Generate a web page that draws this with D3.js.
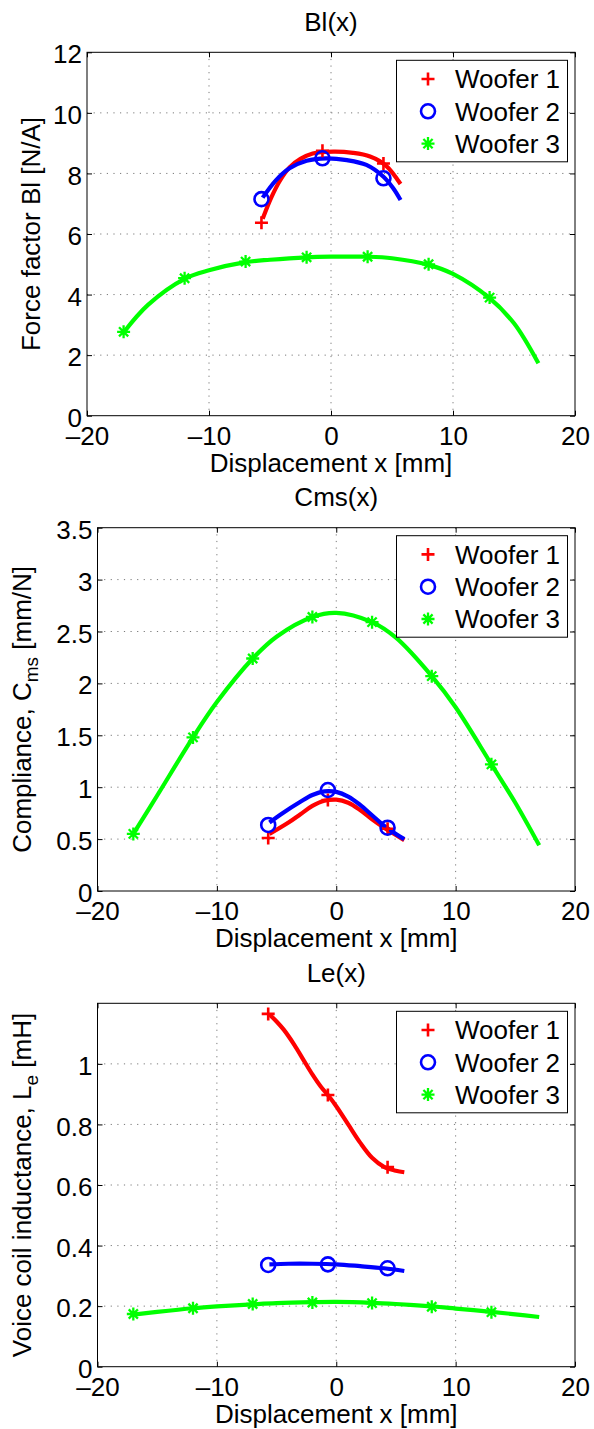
<!DOCTYPE html>
<html><head><meta charset="utf-8">
<script src="https://cdn.jsdelivr.net/npm/d3@7"></script>
<style>body{margin:0;background:#fff}</style>
</head><body><svg id="c" width="594" height="1429" xmlns="http://www.w3.org/2000/svg"></svg>
<script>
// ---------- data ----------
const seriesNames = ["Woofer 1", "Woofer 2", "Woofer 3"];
const seriesColors = ["#ff0000", "#0000ff", "#00ff00"];
const seriesMarkers = ["plus", "circle", "star"];

const xTicks = [-20, -10, 0, 10, 20];
const blTicks = [0, 2, 4, 6, 8, 10, 12];
const cmsTicks = [0, 0.5, 1, 1.5, 2, 2.5, 3, 3.5];
const leTicks = [0, 0.2, 0.4, 0.6, 0.8, 1];

// measured positions (markers)
const w12MarkX = [-5.7, -0.7, 4.3];
const w3MarkX = [-17, -12, -7, -2, 3, 8, 13];

const blW1MarkY = [6.37, 8.75, 8.33];
const blW2MarkY = [7.15, 8.5, 7.84];
const blW3MarkY = [2.77, 4.54, 5.09, 5.23, 5.25, 5.0, 3.9];

const cmsW1MarkY = [0.51, 0.877, 0.6];
const cmsW2MarkY = [0.636, 0.973, 0.61];
const cmsW3MarkY = [0.55, 1.48, 2.24, 2.64, 2.59, 2.07, 1.22];

const leW1MarkY = [1.165, 0.897, 0.659];
const leW2MarkY = [0.336, 0.338, 0.325];
const leW3MarkY = [0.174, 0.193, 0.207, 0.212, 0.21, 0.198, 0.18];

// fitted curves
const blW1CurveX = [-5.6, -4.9, -4.2, -3.4, -2.5, -1.5, 0.2, 1.8, 3.2, 4.5, 5.7];
const blW1CurveY = [6.5, 7.2, 7.75, 8.2, 8.48, 8.66, 8.72, 8.68, 8.56, 8.26, 7.65];
const blW2CurveX = [-5.6, -4.5, -3.4, -2, -0.4, 1.3, 2.9, 4.3, 5.1, 5.7];
const blW2CurveY = [7.2, 7.78, 8.17, 8.42, 8.5, 8.44, 8.28, 7.89, 7.51, 7.12];
const blW3CurveX = [-17, -15, -12, -10, -7, -5, -2, 0, 3, 5, 8, 10, 13, 15, 17];
const blW3CurveY = [2.75, 3.66, 4.52, 4.8, 5.07, 5.15, 5.23, 5.25, 5.25, 5.2, 4.98, 4.68, 3.88, 3.05, 1.73];

const cmsW1CurveX = [-5.6, -4, -3, -2, -1, 0, 1, 2, 3, 4, 5, 5.7];
const cmsW1CurveY = [0.55, 0.66, 0.74, 0.82, 0.87, 0.88, 0.85, 0.78, 0.69, 0.61, 0.54, 0.49];
const cmsW2CurveX = [-5.6, -4.5, -3, -2, -1, 0, 1, 2, 3, 4, 5, 5.7];
const cmsW2CurveY = [0.66, 0.75, 0.86, 0.925, 0.96, 0.955, 0.91, 0.83, 0.73, 0.63, 0.55, 0.5];
const cmsW3CurveX = [-17, -15, -12, -10, -7, -5, -2, 0, 3, 5, 8, 10, 13, 15, 17];
const cmsW3CurveY = [0.55, 0.92, 1.48, 1.82, 2.24, 2.45, 2.64, 2.68, 2.59, 2.44, 2.07, 1.77, 1.22, 0.85, 0.44];

const leW1CurveX = [-5.6, -5, -4.4, -3.5, -2.7, -2, -1.3, -0.7, 0, 1, 2, 3, 4, 5, 5.7];
const leW1CurveY = [1.163, 1.14, 1.113, 1.062, 1.01, 0.965, 0.925, 0.897, 0.86, 0.8, 0.74, 0.69, 0.66, 0.647, 0.642];
const leW2CurveX = [-5.6, -4, -2, 0, 2, 4, 5.7];
const leW2CurveY = [0.338, 0.34, 0.34, 0.338, 0.332, 0.325, 0.316];
const leW3CurveX = [-17, -15, -12, -10, -7, -5, -2, 0, 3, 5, 8, 10, 13, 15, 17];
const leW3CurveY = [0.172, 0.181, 0.193, 0.199, 0.206, 0.21, 0.213, 0.214, 0.211, 0.207, 0.199, 0.192, 0.181, 0.173, 0.164];

// ---------- build panels ----------
const zip = (xs, ys) => xs.map((x, i) => ({x, y: ys[i]}));
const panels = [
  {title: "Bl(x)", yTicks: blTicks, yMax: 12,
   ylabel: [{t: "Force factor Bl [N/A]"}],
   box: {l: 87, r: 575, t: 52.3, b: 415.7}, ylabX: 40,
   curves: [zip(blW1CurveX, blW1CurveY), zip(blW2CurveX, blW2CurveY), zip(blW3CurveX, blW3CurveY)],
   marks: [zip(w12MarkX, blW1MarkY), zip(w12MarkX, blW2MarkY), zip(w3MarkX, blW3MarkY)]},
  {title: "Cms(x)", yTicks: cmsTicks, yMax: 3.5,
   ylabel: [{t: "Compliance, C"}, {t: "ms", sub: true}, {t: " [mm/N]"}],
   box: {l: 97.5, r: 575, t: 527.7, b: 891}, ylabX: 31,
   curves: [zip(cmsW1CurveX, cmsW1CurveY), zip(cmsW2CurveX, cmsW2CurveY), zip(cmsW3CurveX, cmsW3CurveY)],
   marks: [zip(w12MarkX, cmsW1MarkY), zip(w12MarkX, cmsW2MarkY), zip(w3MarkX, cmsW3MarkY)]},
  {title: "Le(x)", yTicks: leTicks, yMax: 1.2,
   ylabel: [{t: "Voice coil inductance, L"}, {t: "e", sub: true}, {t: " [mH]"}],
   box: {l: 97.5, r: 575, t: 1003.3, b: 1366.7}, ylabX: 31,
   curves: [zip(leW1CurveX, leW1CurveY), zip(leW2CurveX, leW2CurveY), zip(leW3CurveX, leW3CurveY)],
   marks: [zip(w12MarkX, leW1MarkY), zip(w12MarkX, leW2MarkY), zip(w3MarkX, leW3MarkY)]}
];

const FONT = "'Liberation Sans', Arial, Helvetica, sans-serif";
const FS = 26;
const svg = d3.select("#c");
svg.append("rect").attr("width", 594).attr("height", 1429).attr("fill", "#fff");

const fmt = d => d < 0 ? "\u2013" + Math.abs(d) : String(d);

function drawMarker(g, type, cx, cy, color) {
  const m = g.append("g").attr("transform", `translate(${cx},${cy})`)
    .attr("stroke", color).attr("fill", "none").attr("stroke-width", 2.6);
  if (type === "plus") {
    m.append("path").attr("d", "M-6.5,0H6.5M0,-6.5V6.5");
  } else if (type === "circle") {
    m.append("circle").attr("r", 7);
  } else {
    m.attr("stroke-width", 2.3);
    m.append("path").attr("d", "M-6.5,0H6.5M0,-6.5V6.5M-4.6,-4.6L4.6,4.6M-4.6,4.6L4.6,-4.6");
  }
}

panels.forEach(p => {
  const B = p.box;
  const x = d3.scaleLinear().domain([-20, 20]).range([B.l, B.r]);
  const y = d3.scaleLinear().domain([0, p.yMax]).range([B.b, B.t]);
  const g = svg.append("g");

  // grid
  const gridX = xTicks.filter(t => t > -20 && t < 20);
  const gridY = p.yTicks.filter(t => t > 0 && t < p.yMax);
  g.selectAll(null).data(gridX).enter().append("line")
    .attr("x1", d => x(d)).attr("x2", d => x(d)).attr("y1", B.t).attr("y2", B.b)
    .attr("stroke", "#7a7a7a").attr("stroke-width", 1).attr("stroke-dasharray", "1.2,5.4");
  g.selectAll(null).data(gridY).enter().append("line")
    .attr("y1", d => y(d)).attr("y2", d => y(d)).attr("x1", B.l).attr("x2", B.r)
    .attr("stroke", "#7a7a7a").attr("stroke-width", 1).attr("stroke-dasharray", "1.2,5.4");

  // axes via d3 (inward ticks)
  const ax = g.append("g").attr("transform", `translate(0,${B.b})`)
    .call(d3.axisBottom(x).tickValues(xTicks).tickSizeInner(-5).tickSizeOuter(0).tickFormat(fmt));
  ax.selectAll("text").attr("dy", null).attr("y", 29.3);
  const axT = g.append("g").attr("transform", `translate(0,${B.t})`)
    .call(d3.axisTop(x).tickValues(xTicks).tickSizeInner(-5).tickSizeOuter(0).tickFormat(""));
  const ay = g.append("g").attr("transform", `translate(${B.l},0)`)
    .call(d3.axisLeft(y).tickValues(p.yTicks).tickSizeInner(-5).tickSizeOuter(0).tickFormat(fmt));
  ay.selectAll("text").attr("dy", null).attr("x", -5).attr("dy", "0.36em").attr("transform", "translate(0,1.2)");
  const ayR = g.append("g").attr("transform", `translate(${B.r},0)`)
    .call(d3.axisRight(y).tickValues(p.yTicks).tickSizeInner(-5).tickSizeOuter(0).tickFormat(""));
  [ax, axT, ay, ayR].forEach(a => {
    a.select(".domain").remove();
    a.selectAll("line").attr("stroke", "#000");
    a.selectAll("text").attr("font-family", FONT).attr("font-size", FS).attr("fill", "#000");
  });
  g.append("rect").attr("x", B.l).attr("y", B.t).attr("width", B.r - B.l).attr("height", B.b - B.t)
    .attr("fill", "none").attr("stroke", "#000").attr("stroke-width", 1);

  // curves
  const line = d3.line().x(d => x(d.x)).y(d => y(d.y)).curve(d3.curveCatmullRom.alpha(0.5));
  p.curves.forEach((c, i) => {
    g.append("path").attr("d", line(c)).attr("fill", "none")
      .attr("stroke", seriesColors[i]).attr("stroke-width", 4.2)
      .attr("stroke-linejoin", "round").attr("stroke-linecap", "butt");
  });
  p.marks.forEach((ms, i) => {
    ms.forEach(d => drawMarker(g, seriesMarkers[i], x(d.x), y(d.y), seriesColors[i]));
  });

  // title & labels
  const cx = (B.l + B.r) / 2;
  g.append("text").attr("x", cx).attr("y", B.t - 21.5).attr("text-anchor", "middle")
    .attr("font-family", FONT).attr("font-size", FS).text(p.title);
  g.append("text").attr("x", cx).attr("y", B.b + 56).attr("text-anchor", "middle")
    .attr("font-family", FONT).attr("font-size", FS).text("Displacement x [mm]");
  const yl = g.append("text").attr("transform", `translate(${p.ylabX},${(B.t + B.b) / 2}) rotate(-90)`)
    .attr("text-anchor", "middle").attr("font-family", FONT).attr("font-size", FS);
  let shifted = false;
  p.ylabel.forEach(part => {
    const ts = yl.append("tspan").text(part.t);
    if (part.sub) { ts.attr("font-size", 19).attr("dy", 7); shifted = true; }
    else if (shifted) { ts.attr("dy", -7); shifted = false; }
  });

  // legend
  const lt = B.t + 8;
  const lg = g.append("g");
  lg.append("rect").attr("x", 396.5).attr("y", lt).attr("width", 171).attr("height", 101.5)
    .attr("fill", "#fff").attr("stroke", "#000").attr("stroke-width", 1);
  seriesNames.forEach((n, i) => {
    const ry = lt + 18.7 + i * 32.3;
    drawMarker(lg, seriesMarkers[i], 428, ry, seriesColors[i]);
    lg.append("text").attr("x", 455).attr("y", ry + 9.3).attr("font-family", FONT)
      .attr("font-size", FS).text(n);
  });
});
</script></body></html>
